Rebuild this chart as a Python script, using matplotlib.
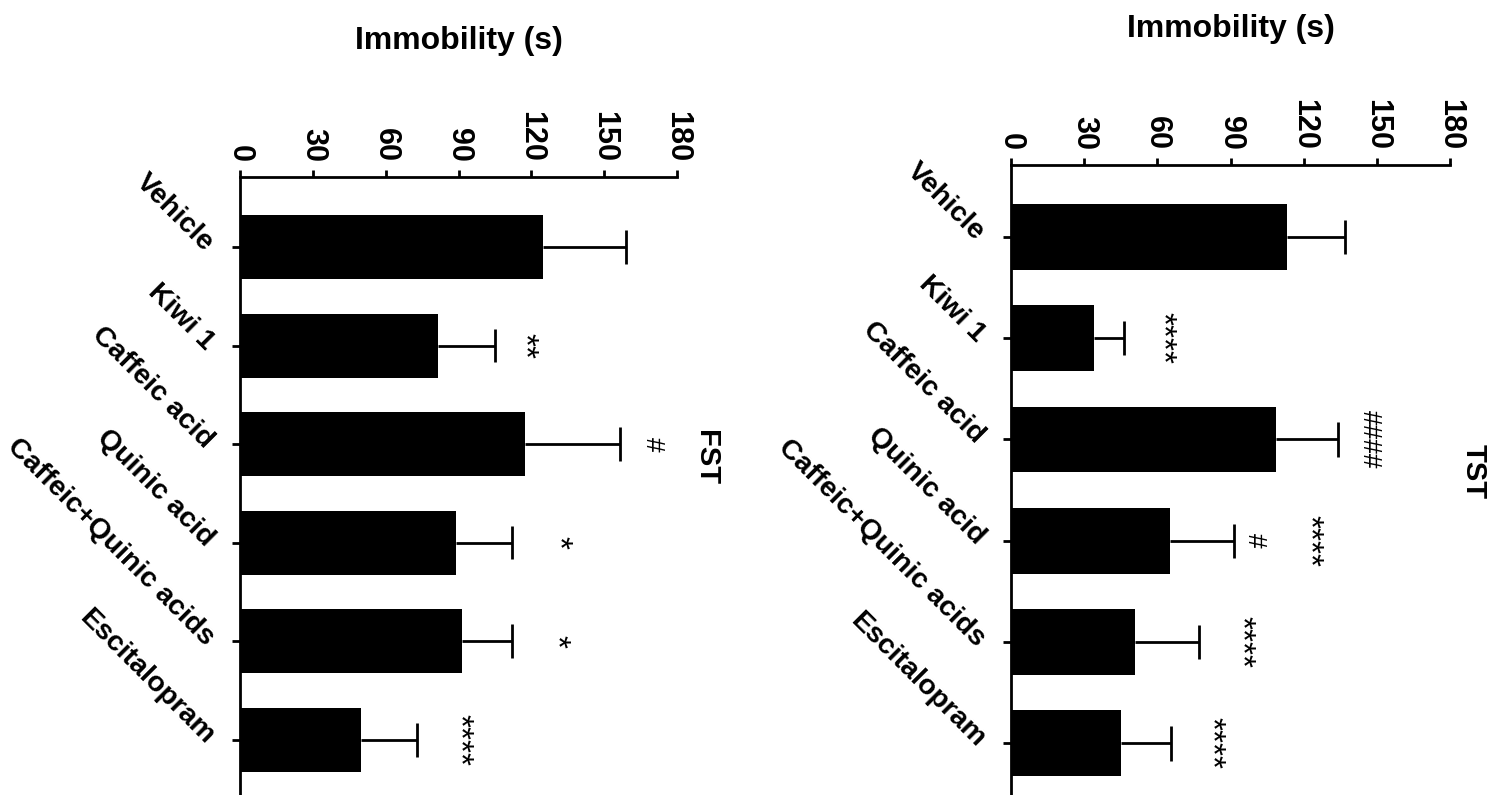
import matplotlib
matplotlib.use("Agg")
import matplotlib.pyplot as plt
import numpy as np

plt.rcParams["font.family"] = ["Liberation Sans", "DejaVu Sans"]

groups = ["Vehicle", "Kiwi 1", "Caffeic acid", "Quinic acid",
          "Caffeic+Quinic acids", "Escitalopram"]

# FST panel (left)
fst_mean = [125, 81.5, 117.5, 89, 91.5, 50]
fst_err = [34, 23.5, 39, 23, 20.5, 23]
fst_marks = ["", "**", "#", "*", "*", "****"]
fst_mark_x = [None, 117, 170, 131, 130, 90]

# TST panel (right)
tst_mean = [113, 34, 108.5, 65, 51, 45]
tst_err = [24, 12.5, 25.5, 26.5, 26, 20.5]
tst_marks = [[], ["****"], ["####"], ["#", "****"], ["****"], ["****"]]
tst_mark_x = [[], [62], [147], [100, 122], [94], [82]]

ticks = [0, 30, 60, 90, 120, 150, 180]

W, H = 1497, 795
fig = plt.figure(figsize=(W / 100, H / 100), dpi=100)


def panel(rect_px, ylim, means, errs, title, title_xy, labelpad):
    l, t, w = rect_px
    ax = fig.add_axes([l / W, 0, w / W, 1 - t / H])
    pos = np.arange(len(groups))
    means = np.array(means)
    errs = np.array(errs)
    ax.barh(pos, means, height=0.65, color="black")
    # one-sided error bars with a cap
    ax.hlines(pos, means, means + errs, color="black", lw=2)
    ax.vlines(means + errs, pos - 0.17, pos + 0.17, color="black", lw=2)
    ax.set_xlim(0, 180)
    ax.set_ylim(*ylim)
    ax.xaxis.tick_top()
    ax.xaxis.set_label_position("top")
    ax.set_xticks(ticks)
    ax.set_xticklabels([str(v) for v in ticks], rotation=-90,
                       fontsize=22, fontweight="bold")
    ax.set_yticks(pos)
    ax.set_yticklabels(groups, rotation=-45, ha="right", va="center",
                       rotation_mode="anchor", fontsize=20.5, fontweight="bold")
    ax.set_xlabel("Immobility (s)", fontsize=23, fontweight="bold",
                  labelpad=labelpad)
    for s in ["right", "bottom"]:
        ax.spines[s].set_visible(False)
    for s in ["left", "top"]:
        ax.spines[s].set_linewidth(2)
    ax.tick_params(axis="x", length=5, width=2, pad=6)
    ax.tick_params(axis="y", length=6, width=2, pad=16)
    fig.text(title_xy[0] / W, 1 - title_xy[1] / H, title, rotation=-90,
             fontsize=21, fontweight="bold", ha="center", va="center")
    return ax


def mark(ax, x, y, s):
    size = 24 if "*" in s else 19
    ax.text(x, y, s, rotation=-90, ha="center", va="center", fontsize=size)


ax1 = panel((240, 177, 437), (5.56, -0.71), fst_mean, fst_err, "FST",
            (706, 458), 44)
for i, (m, x) in enumerate(zip(fst_marks, fst_mark_x)):
    if m:
        mark(ax1, x, i, m)

ax2 = panel((1011, 165, 439), (5.51, -0.71), tst_mean, tst_err, "TST",
            (1474, 472), 44)
for i, (ms, xs) in enumerate(zip(tst_marks, tst_mark_x)):
    for m, x in zip(ms, xs):
        mark(ax2, x, i, m)

fig.savefig("out.png", dpi=100)
